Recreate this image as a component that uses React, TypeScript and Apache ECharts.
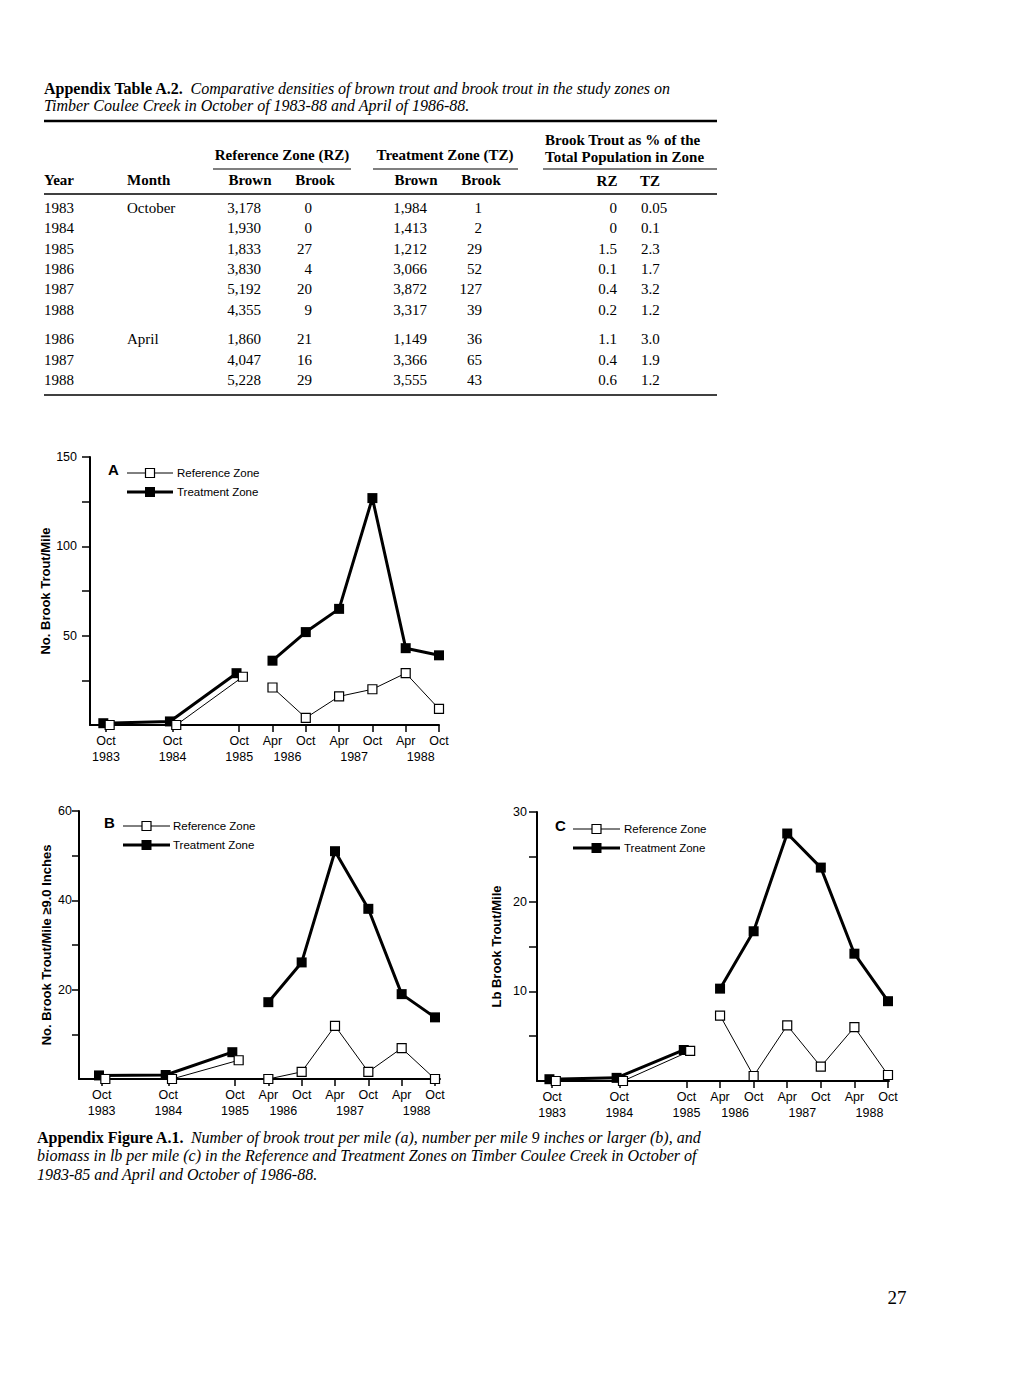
import { useEffect, useRef } from "react";
import * as echarts from "echarts";

// ---------- Table data (Appendix Table A.2) ----------
const tableYears = ["1983", "1984", "1985", "1986", "1987", "1988", "1986", "1987", "1988"];
const tableMonths = ["October", "", "", "", "", "", "April", "", ""];
const rzBrown = [3178, 1930, 1833, 3830, 5192, 4355, 1860, 4047, 5228];
const rzBrook = [0, 0, 27, 4, 20, 9, 21, 16, 29];
const tzBrown = [1984, 1413, 1212, 3066, 3872, 3317, 1149, 3366, 3555];
const tzBrook = [1, 2, 29, 52, 127, 39, 36, 65, 43];
const rzPct = ["0", "0", "1.5", "0.1", "0.4", "0.2", "1.1", "0.4", "0.6"];
const tzPct = ["0.05", "0.1", "2.3", "1.7", "3.2", "1.2", "3.0", "1.9", "1.2"];

// ---------- Figure data (Appendix Figure A.1) ----------
const periodMonths = ["Oct", "Oct", "Oct", "Apr", "Oct", "Apr", "Oct", "Apr", "Oct"];
const periodYears = ["1983", "1984", "1985", "", "", "", "", "", ""];
// sampling time in half-years after October 1983
const periodPos = [0, 2, 4, 5, 6, 7, 8, 9, 10];
const yearGroupLabels = ["1986", "1987", "1988"];
const yearGroupPos = [5.45, 7.45, 9.45];

// A: number of brook trout per mile
const aRef = [0, 0, 27, 21, 4, 16, 20, 29, 9];
const aTreat = [1, 2, 29, 36, 52, 65, 127, 43, 39];
const aYTicks = [25, 50, 75, 100, 125, 150];
const aYLabels = [50, 100, 150];
// B: number per mile >= 9.0 inches
const bRef = [0, 0, 4.2, 0, 1.6, 11.9, 1.6, 6.9, 0];
const bTreat = [0.8, 0.9, 6, 17.2, 26.1, 51, 38.1, 19, 13.8];
const bYTicks = [10, 20, 30, 40, 50, 60];
const bYLabels = [20, 40, 60];
// C: biomass, lb per mile
const cRef = [0, 0, 3.35, 7.3, 0.56, 6.2, 1.6, 6.0, 0.67];
const cTreat = [0.2, 0.35, 3.46, 10.3, 16.7, 27.6, 23.8, 14.2, 8.9];
const cYTicks = [5, 10, 15, 20, 25, 30];
const cYLabels = [10, 20, 30];

const SANS = '"Liberation Sans", Arial, sans-serif';
const SERIF = '"Liberation Serif", "Times New Roman", serif';
const BREAK_AFTER = 2; // lines are interrupted between Oct 1985 and Apr 1986

function buildData(vals: number[], earlyShift: number) {
  const out: any[] = [];
  vals.forEach((v, i) => {
    out.push([periodPos[i] + (i <= BREAK_AFTER ? earlyShift : 0), v]);
    if (i === BREAK_AFTER) out.push([(periodPos[i] + periodPos[i + 1]) / 2, "-"]);
  });
  return out;
}

const chartDefs = [
  {
    letter: "A", ref: aRef, treat: aTreat, yMax: 150, yTicks: aYTicks, yLabels: aYLabels,
    yName: "No. Brook Trout/Mile",
    grid: { left: 90, top: 457, width: 349, height: 268 }, xMin: -0.48, xMax: 10,
    nameGap: 36, labelMargin: 13, tickLen: 8,
    lg: { lx: 108, ly: 469, x0: 127, x1: 173, yr: 473, yt: 492, tx: 177 },
  },
  {
    letter: "B", ref: bRef, treat: bTreat, yMax: 60, yTicks: bYTicks, yLabels: bYLabels,
    yName: "No. Brook Trout/Mile \u22659.0 Inches",
    grid: { left: 79, top: 811, width: 361, height: 268 }, xMin: -0.68, xMax: 10.15,
    nameGap: 26, labelMargin: 7, tickLen: 7,
    lg: { lx: 104, ly: 822, x0: 123, x1: 170, yr: 826, yt: 845, tx: 173 },
  },
  {
    letter: "C", ref: cRef, treat: cTreat, yMax: 30, yTicks: cYTicks, yLabels: cYLabels,
    yName: "Lb Brook Trout/Mile",
    grid: { left: 537, top: 812, width: 352, height: 269 }, xMin: -0.45, xMax: 10.03,
    nameGap: 34, labelMargin: 10, tickLen: 8,
    lg: { lx: 555, ly: 825, x0: 573, x1: 620, yr: 829, yt: 848, tx: 624 },
  },
];

function buildOption() {
  const grid: any[] = [];
  const xAxis: any[] = [];
  const yAxis: any[] = [];
  const series: any[] = [];
  const elements: any[] = [];

  chartDefs.forEach((c, k) => {
    grid.push({ ...c.grid, containLabel: false });
    const labelStyle = { color: "#000", fontFamily: SANS, fontSize: 12.5 };
    xAxis.push({
      type: "value", gridIndex: k, min: c.xMin, max: c.xMax, position: "bottom",
      splitLine: { show: false },
      axisLine: { show: true, onZero: false, lineStyle: { color: "#000", width: 2 } },
      axisTick: { show: true, customValues: periodPos, length: 7, lineStyle: { color: "#000", width: 1.5 } },
      axisLabel: {
        ...labelStyle, customValues: periodPos, margin: 8, lineHeight: 16,
        formatter: (v: number) => {
          const i = periodPos.indexOf(Math.round(v * 100) / 100);
          if (i < 0) return "";
          return periodYears[i] ? periodMonths[i] + "\n" + periodYears[i] : periodMonths[i];
        },
      },
    });
    xAxis.push({
      type: "value", gridIndex: k, min: c.xMin, max: c.xMax, position: "bottom",
      splitLine: { show: false }, axisLine: { show: false }, axisTick: { show: false },
      axisLabel: {
        ...labelStyle, customValues: yearGroupPos, margin: 24, lineHeight: 16,
        formatter: (v: number) => {
          const i = yearGroupPos.indexOf(Math.round(v * 100) / 100);
          return i < 0 ? "" : yearGroupLabels[i];
        },
      },
    });
    yAxis.push({
      type: "value", gridIndex: k, min: 0, max: c.yMax,
      splitLine: { show: false },
      axisLine: { show: true, onZero: false, lineStyle: { color: "#000", width: 2 } },
      axisTick: { show: true, customValues: c.yTicks, length: c.tickLen, lineStyle: { color: "#000", width: 1.5 } },
      axisLabel: { ...labelStyle, customValues: c.yLabels, margin: c.labelMargin },
      name: c.yName, nameLocation: "middle", nameRotate: 90, nameGap: c.nameGap,
      nameTextStyle: { color: "#000", fontFamily: SANS, fontSize: 13, fontWeight: "bold" },
    });
    series.push({
      type: "line", name: "Treatment Zone", xAxisIndex: 2 * k, yAxisIndex: k,
      data: buildData(c.treat, -0.08), symbol: "rect", symbolSize: 10, silent: true,
      lineStyle: { color: "#000", width: 3 }, itemStyle: { color: "#000" }, z: 2,
      emphasis: { disabled: true },
    });
    series.push({
      type: "line", name: "Reference Zone", xAxisIndex: 2 * k, yAxisIndex: k,
      data: buildData(c.ref, 0.11), symbol: "rect", symbolSize: 9, silent: true,
      lineStyle: { color: "#000", width: 1 },
      itemStyle: { color: "#fff", borderColor: "#000", borderWidth: 1.2 }, z: 3,
      emphasis: { disabled: true },
    });

    // legend
    const g = c.lg;
    const mid = (g.x0 + g.x1) / 2;
    elements.push(
      { type: "text", x: g.lx, y: g.ly, style: { text: c.letter, fontFamily: SANS, fontWeight: "bold", fontSize: 15, fill: "#000", textVerticalAlign: "middle" } },
      { type: "line", shape: { x1: g.x0, y1: g.yr, x2: g.x1, y2: g.yr }, style: { stroke: "#000", lineWidth: 1 } },
      { type: "rect", shape: { x: mid - 4.5, y: g.yr - 4.5, width: 9, height: 9 }, style: { fill: "#fff", stroke: "#000", lineWidth: 1.2 } },
      { type: "text", x: g.tx, y: g.yr, style: { text: "Reference Zone", fontFamily: SANS, fontSize: 11.5, fill: "#000", textVerticalAlign: "middle" } },
      { type: "line", shape: { x1: g.x0, y1: g.yt, x2: g.x1, y2: g.yt }, style: { stroke: "#000", lineWidth: 3 } },
      { type: "rect", shape: { x: mid - 5, y: g.yt - 5, width: 10, height: 10 }, style: { fill: "#000" } },
      { type: "text", x: g.tx, y: g.yt, style: { text: "Treatment Zone", fontFamily: SANS, fontSize: 11.5, fill: "#000", textVerticalAlign: "middle" } },
    );
  });

  // ---------- Table ----------
  const T = (x: number, y: number, text: string, align: string, opts: any = {}) => ({
    type: "text", x, y,
    style: { text, fontFamily: SERIF, fontSize: 15, fill: "#000", textAlign: align, textVerticalAlign: "middle", ...opts },
  });
  const R = (x1: number, x2: number, y: number, w: number) => ({
    type: "line", shape: { x1, y1: y, x2, y2: y }, style: { stroke: "#000", lineWidth: w },
  });
  const rich = {
    b: { fontFamily: SERIF, fontWeight: "bold", fontSize: 16, fill: "#000" },
    i: { fontFamily: SERIF, fontStyle: "italic", fontSize: 16, fill: "#000" },
  };
  elements.push(
    { type: "text", x: 44, y: 88, style: { text: "{b|Appendix Table A.2.}  {i|Comparative densities of brown trout and brook trout in the study zones on}", rich, textVerticalAlign: "middle" } },
    { type: "text", x: 44, y: 105, style: { text: "{i|Timber Coulee Creek in October of 1983-88 and April of 1986-88.}", rich, textVerticalAlign: "middle" } },
    R(44, 717, 121, 2.5),
    T(282, 155, "Reference Zone (RZ)", "center", { fontWeight: "bold" }),
    T(445, 155, "Treatment Zone (TZ)", "center", { fontWeight: "bold" }),
    T(545, 140, "Brook Trout as % of the", "left", { fontWeight: "bold" }),
    T(545, 157, "Total Population in Zone", "left", { fontWeight: "bold" }),
    R(213, 351, 169, 1.2), R(373, 518, 169, 1.2), R(543, 717, 169, 1.2),
    T(44, 180, "Year", "left", { fontWeight: "bold" }),
    T(127, 180, "Month", "left", { fontWeight: "bold" }),
    T(250, 180, "Brown", "center", { fontWeight: "bold" }),
    T(315, 180, "Brook", "center", { fontWeight: "bold" }),
    T(416, 180, "Brown", "center", { fontWeight: "bold" }),
    T(481, 180, "Brook", "center", { fontWeight: "bold" }),
    T(607, 181, "RZ", "center", { fontWeight: "bold" }),
    T(640, 181, "TZ", "left", { fontWeight: "bold" }),
    R(44, 717, 194, 1.5),
    R(44, 717, 395, 1.5),
  );
  const fmt = (n: number) => n.toLocaleString("en-US");
  tableYears.forEach((yr, i) => {
    const y = i < 6 ? 208 + i * 20.3 : 339 + (i - 6) * 20.5;
    elements.push(
      T(44, y, yr, "left"),
      T(127, y, tableMonths[i], "left"),
      T(261, y, fmt(rzBrown[i]), "right"),
      T(312, y, String(rzBrook[i]), "right"),
      T(427, y, fmt(tzBrown[i]), "right"),
      T(482, y, String(tzBrook[i]), "right"),
      T(617, y, rzPct[i], "right"),
      T(641, y, tzPct[i], "left"),
    );
  });

  // ---------- Figure caption & page number ----------
  const capLines = [
    "{b|Appendix Figure A.1.}  {i|Number of brook trout per mile (a), number per mile 9 inches or larger (b), and}",
    "{i|biomass in lb per mile (c) in the Reference and Treatment Zones on Timber Coulee Creek in October of}",
    "{i|1983-85 and April and October of 1986-88.}",
  ];
  capLines.forEach((t, i) => {
    elements.push({ type: "text", x: 37, y: 1137 + i * 18.5, style: { text: t, rich, textVerticalAlign: "middle" } });
  });
  elements.push({ type: "text", x: 897, y: 1297, style: { text: "27", fontFamily: SERIF, fontSize: 19, fill: "#000", textAlign: "center", textVerticalAlign: "middle" } });

  return {
    animation: false,
    backgroundColor: "#fff",
    grid, xAxis, yAxis, series,
    graphic: { elements },
  };
}

export default function App() {
  const ref = useRef<HTMLDivElement>(null);
  useEffect(() => {
    if (!ref.current) return;
    const chart = echarts.init(ref.current, null, { renderer: "svg" });
    chart.setOption(buildOption() as any);
    return () => chart.dispose();
  }, []);
  return (
    <div
      ref={ref}
      style={{ position: "absolute", left: 0, top: 0, width: 1031, height: 1380, background: "#fff" }}
    />
  );
}
